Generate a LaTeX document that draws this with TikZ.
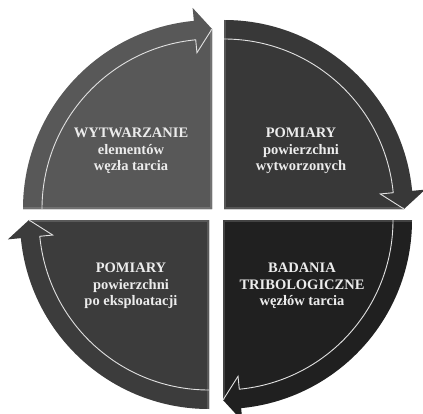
\documentclass[tikz,border=0pt]{standalone}
\usepackage{fontspec}
\setmainfont{Liberation Serif}
\usetikzlibrary{calc}
\definecolor{cTL}{RGB}{88,88,88}
\definecolor{cTR}{RGB}{56,56,56}
\definecolor{cBR}{RGB}{32,32,32}
\definecolor{cBL}{RGB}{60,60,60}
\definecolor{txt}{RGB}{236,236,236}
\definecolor{wl}{RGB}{225,225,225}
\newcommand\qpath[2]{(#1) -- ($(#1)+(#2:189pt)$) arc[start angle=#2, delta angle=-84.5, radius=189pt] -- ($(#1)+({#2-84.5}:202pt)$) -- ($(#1)+({#2-90}:180pt)$) -- cycle}
\newcommand\quadrant[3]{%
  \fill[black!12] [xshift=1pt,yshift=-1.5pt] \qpath{#1}{#2};
  \fill[#3] \qpath{#1}{#2};
  \begin{scope}
    \clip \qpath{#1}{#2};
    \draw[line width=4pt, #3!85!white] ($(#1)+(#2:189pt)$) -- (#1) -- ($(#1)+({#2-90}:180pt)$);
  \end{scope}
  \draw[wline] ($(#1)+(#2:170pt)$) arc[start angle=#2, delta angle=-84.5, radius=170pt] -- ($(#1)+({#2-84.5}:157pt)$) -- ($(#1)+({#2-90}:180pt)$);
}
\tikzset{
  wline/.style={draw=wl, line width=0.9pt, line join=miter},
  lbl/.style={align=center, text=txt, font=\bfseries\fontsize{14.5}{16.5}\selectfont, inner sep=0pt}
}
\begin{document}
\begin{tikzpicture}
\useasboundingbox (0,0) rectangle (423pt,413pt);
\fill[white] (0,0) rectangle (423pt,413pt);
\coordinate (tl) at (212pt,204pt);
\coordinate (tr) at (224pt,204pt);
\coordinate (br) at (223pt,193pt);
\coordinate (bl) at (209pt,193pt);
\begin{scope}
\clip (0,0) rectangle (423pt,413pt);
\quadrant{tl}{180}{cTL}
\quadrant{tr}{90}{cTR}
\quadrant{br}{0}{cBR}
\quadrant{bl}{-90}{cBL}
\end{scope}
\node[lbl] (t1) at (131pt,262pt) {WYTWARZANIE\\elementów\\węzła tarcia};
\node[lbl] (t2) at (301pt,262pt) {POMIARY\\powierzchni\\wytworzonych};
\node[lbl] (t3) at (302pt,127pt) {BADANIA\\TRIBOLOGICZNE\\węzłów tarcia};
\node[lbl] (t4) at (131pt,127pt) {POMIARY\\powierzchni\\po eksploatacji};
\end{tikzpicture}
\end{document}
